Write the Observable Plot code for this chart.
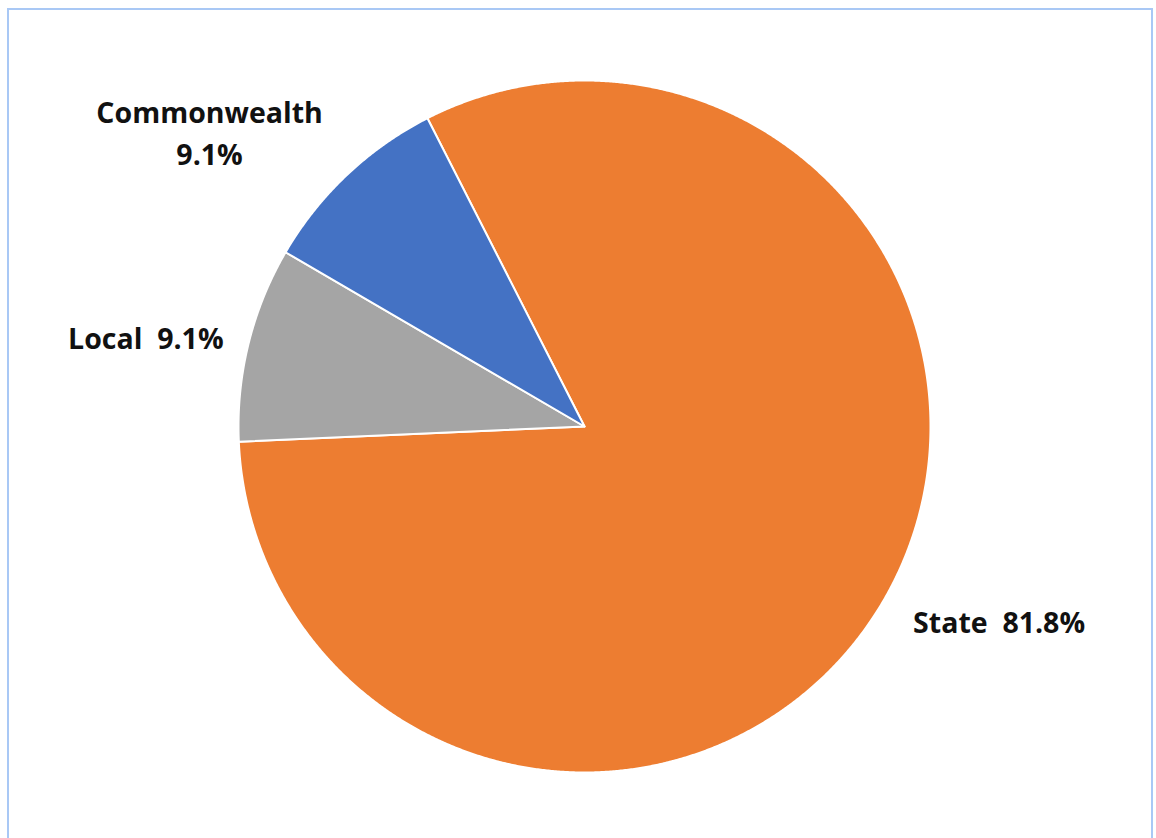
<!DOCTYPE html>
<html>
<head>
<meta charset="utf-8">
<script src="https://cdn.jsdelivr.net/npm/d3@7"></script>
<script src="https://cdn.jsdelivr.net/npm/@observablehq/plot@0.6"></script>
<style>
  html, body { margin: 0; padding: 0; background: #fff; }
  #wrap { position: relative; width: 1156px; height: 838px; overflow: hidden; }
  #border { position: absolute; left: 7px; top: 8px; width: 1146px; height: 900px;
            border: 2px solid #a9c8f5; box-sizing: border-box; }
  #chart { position: absolute; left: 0; top: 0; }
</style>
</head>
<body>
<div id="wrap"><div id="border"></div><div id="chart"></div></div>
<script>
const categories = ["State", "Local", "Commonwealth"];
const values = [81.8, 9.1, 9.1];
const labels = ["State  81.8%", "Local  9.1%", "Commonwealth\n9.1%"];
const colors = ["#ED7D31", "#A5A5A5", "#4472C4"];

const W = 1156, H = 838, cx = 584, cy = 426, R = 346;
const start = -27 * Math.PI / 180;
const arcs = d3.pie().sort(null).startAngle(start).endAngle(start + 2 * Math.PI)(values);

// polygon vertices in unit coordinates (y up), built from the pie angles
const pts = [];
arcs.forEach((a, i) => {
  const cat = categories[i];
  pts.push({cat, x: 0, y: 0});
  const n = Math.max(2, Math.ceil((a.endAngle - a.startAngle) / (0.25 * Math.PI / 180)));
  for (let k = 0; k <= n; k++) {
    const t = a.startAngle + (a.endAngle - a.startAngle) * k / n;
    pts.push({cat, x: Math.sin(t), y: Math.cos(t)});
  }
});

const nudges = {State: [26, -33], Local: [-2, 17], Commonwealth: [-66, 31]};
const labelData = arcs.map((a, i) => {
  const m = (a.startAngle + a.endAngle) / 2;
  return {cat: categories[i], text: labels[i], x: 1.3 * Math.sin(m), y: 1.3 * Math.cos(m)};
});

const textStyle = {
  text: "text", fontSize: 28.5, fontWeight: 700, fontFamily: "'Open Sans', sans-serif",
  fill: "#111", textAnchor: "middle", lineAnchor: "middle", lineHeight: 1.47
};

const plot = Plot.plot({
  width: W, height: H, margin: 0,
  x: {domain: [-cx / R, (W - cx) / R], axis: null},
  y: {domain: [-(H - cy) / R, cy / R], axis: null},
  color: {domain: categories, range: colors},
  style: {background: "transparent"},
  marks: [
    Plot.line(pts, {x: "x", y: "y", z: "cat", fill: "cat", stroke: "white", strokeWidth: 2,
      curve: "linear-closed", strokeLinejoin: "round"}),
    ...categories.map(c => Plot.text(labelData.filter(d => d.cat === c), {
      x: "x", y: "y", ...textStyle, dx: nudges[c][0], dy: nudges[c][1]
    }))
  ]
});
document.getElementById("chart").appendChild(plot);
</script>
</body>
</html>
